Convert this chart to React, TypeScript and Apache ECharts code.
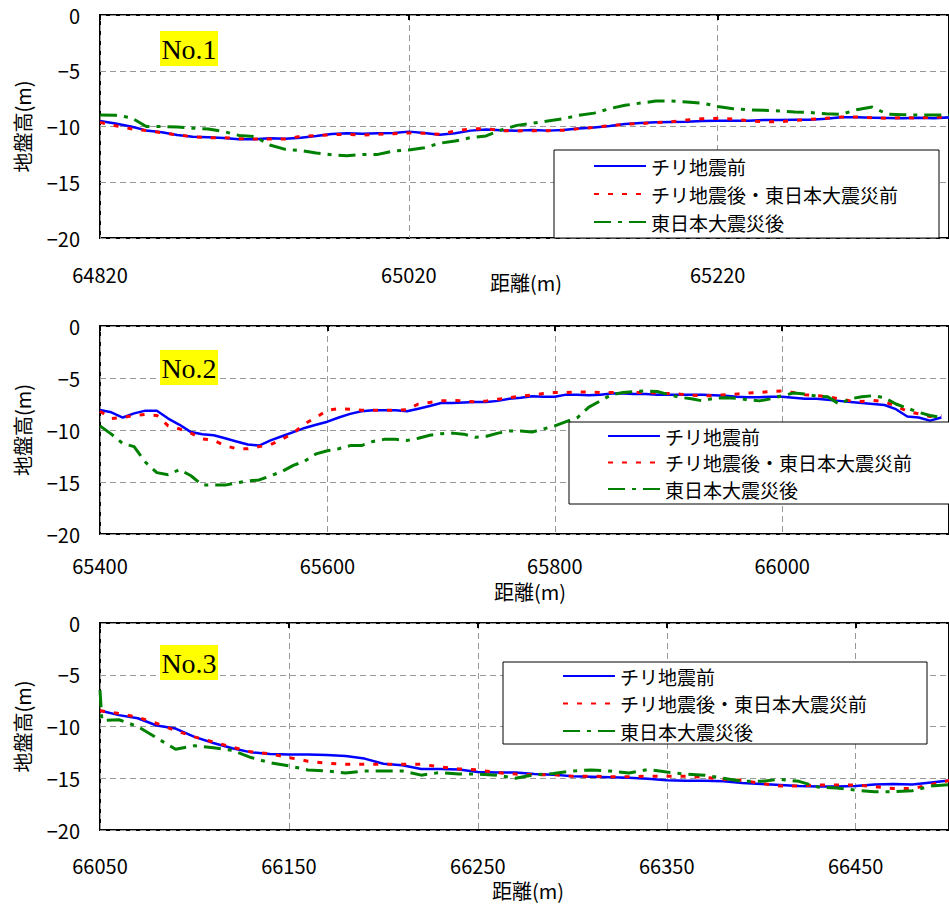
import React, { useEffect, useRef } from "react";
import * as echarts from "echarts";

// ---- Panel No.1 (distance m, elevation m) ----
const dist1 = [
  64820, 64830, 64840, 64850, 64860, 64870, 64880, 64890, 64900, 64910,
  64920, 64930, 64940, 64950, 64960, 64970, 64980, 64990, 65000, 65010,
  65020, 65030, 65040, 65050, 65060, 65070, 65080, 65090, 65100, 65110,
  65120, 65130, 65140, 65150, 65160, 65170, 65180, 65190, 65200, 65210,
  65220, 65230, 65240, 65250, 65260, 65270, 65280, 65290, 65300, 65310,
  65320, 65330, 65340, 65350, 65360, 65370,
];
const before1 = [
  -9.5, -9.74, -10.0, -10.35, -10.52, -10.76, -10.91, -10.97, -11.03, -11.15,
  -11.15, -11.06, -11.09, -11.0, -10.85, -10.67, -10.61, -10.64, -10.61, -10.58,
  -10.46, -10.58, -10.73, -10.61, -10.37, -10.28, -10.34, -10.37, -10.31, -10.37,
  -10.31, -10.17, -10.08, -9.95, -9.77, -9.68, -9.62, -9.59, -9.57, -9.51,
  -9.48, -9.48, -9.48, -9.42, -9.42, -9.39, -9.39, -9.3, -9.18, -9.18,
  -9.21, -9.24, -9.27, -9.21, -9.27, -9.18,
];
const between1 = [
  -9.63, -9.93, -10.2, -10.37, -10.55, -10.76, -10.91, -11.0, -11.0, -11.09,
  -11.12, -11.12, -11.12, -10.88, -10.82, -10.73, -10.7, -10.76, -10.7, -10.64,
  -10.58, -10.61, -10.7, -10.4, -10.22, -10.19, -10.37, -10.4, -10.37, -10.37,
  -10.34, -10.19, -10.08, -9.93, -9.8, -9.74, -9.65, -9.57, -9.42, -9.3,
  -9.27, -9.33, -9.48, -9.57, -9.57, -9.45, -9.36, -9.27, -9.15, -9.15,
  -9.21, -9.27, -9.21, -9.24, -9.15, -9.18,
];
const after1 = [
  -8.97, -9.0, -9.2, -10.0, -10.0, -10.05, -10.15, -10.22, -10.45, -10.8,
  -10.9, -11.66, -12.05, -12.15, -12.38, -12.53, -12.62, -12.5, -12.5, -12.2,
  -12.1, -11.9, -11.5, -11.3, -11.0, -10.85, -10.3, -9.9, -9.7, -9.5,
  -9.3, -9.0, -8.8, -8.4, -8.1, -7.9, -7.72, -7.72, -7.8, -7.9,
  -8.2, -8.4, -8.5, -8.55, -8.6, -8.7, -8.75, -8.85, -8.9, -8.5,
  -8.25, -8.9, -8.95, -8.97, -8.97, -8.97,
];

// ---- Panel No.2 ----
const dist2 = [
  65400, 65410, 65420, 65430, 65440, 65450, 65460, 65470, 65480, 65490,
  65500, 65510, 65520, 65530, 65540, 65550, 65560, 65570, 65580, 65590,
  65600, 65610, 65620, 65630, 65640, 65650, 65660, 65670, 65680, 65690,
  65700, 65710, 65720, 65730, 65740, 65750, 65760, 65770, 65780, 65790,
  65800, 65810, 65820, 65830, 65840, 65850, 65860, 65870, 65880, 65890,
  65900, 65910, 65920, 65930, 65940, 65950, 65960, 65970, 65980, 65990,
  66000, 66010, 66020, 66030, 66040, 66050, 66060, 66070, 66080, 66090,
  66100, 66110, 66120, 66130, 66140,
];
const before2 = [
  -8.08, -8.3, -8.8, -8.4, -8.14, -8.14, -8.9, -9.5, -10.2, -10.4,
  -10.5, -10.8, -11.1, -11.4, -11.5, -11.0, -10.6, -10.2, -9.8, -9.5,
  -9.2, -8.8, -8.45, -8.2, -8.1, -8.1, -8.1, -8.2, -7.95, -7.7,
  -7.4, -7.4, -7.35, -7.3, -7.3, -7.2, -7.0, -6.9, -6.75, -6.8,
  -6.8, -6.6, -6.6, -6.65, -6.6, -6.5, -6.5, -6.55, -6.55, -6.6,
  -6.6, -6.6, -6.6, -6.6, -6.65, -6.7, -6.8, -6.85, -6.85, -6.8,
  -6.8, -6.9, -7.0, -7.0, -7.1, -7.2, -7.3, -7.4, -7.5, -7.6,
  -8.0, -8.7, -8.8, -9.1, -8.8,
];
const between2 = [
  -8.2, -8.9, -8.8, -8.6, -8.5, -8.6, -9.6, -9.9, -10.3, -10.85,
  -11.0, -11.5, -11.8, -11.8, -11.6, -11.4, -10.9, -10.3, -9.4, -8.8,
  -8.1, -7.95, -8.0, -8.1, -8.1, -8.1, -8.1, -8.05, -7.5, -7.35,
  -7.2, -7.15, -7.2, -7.3, -7.2, -7.05, -6.9, -6.75, -6.65, -6.5,
  -6.4, -6.4, -6.35, -6.35, -6.4, -6.4, -6.4, -6.4, -6.4, -6.45,
  -6.5, -6.55, -6.65, -6.7, -6.7, -6.6, -6.55, -6.45, -6.4, -6.3,
  -6.25, -6.4, -6.6, -6.7, -6.8, -7.0, -7.2, -7.25, -7.15, -7.3,
  -7.7, -8.2, -8.45, -8.7, -8.6,
];
const after2 = [
  -9.6, -10.4, -11.3, -11.6, -13.1, -14.1, -14.3, -13.8, -14.4, -15.3,
  -15.3, -15.3, -15.1, -14.9, -14.8, -14.4, -14.0, -13.4, -13.0, -12.3,
  -12.0, -11.8, -11.5, -11.5, -11.1, -10.9, -10.9, -11.0, -10.8, -10.5,
  -10.35, -10.3, -10.4, -10.7, -10.6, -10.3, -10.1, -10.1, -10.2, -9.9,
  -9.6, -9.2, -8.8, -7.8, -7.2, -6.6, -6.4, -6.3, -6.25, -6.3,
  -6.6, -6.85, -7.0, -7.2, -6.95, -6.9, -6.95, -7.1, -7.2, -7.0,
  -6.7, -6.45, -6.55, -6.75, -6.8, -7.5, -7.0, -6.8, -6.7, -6.9,
  -7.5, -7.9, -8.3, -8.6, -8.8,
];

// ---- Panel No.3 ----
const dist3 = [
  66050, 66051, 66060, 66070, 66080, 66090, 66100, 66110, 66120, 66130,
  66140, 66150, 66160, 66170, 66180, 66190, 66200, 66210, 66220, 66230,
  66240, 66250, 66260, 66270, 66280, 66290, 66300, 66310, 66320, 66330,
  66340, 66350, 66360, 66370, 66380, 66390, 66400, 66410, 66420, 66430,
  66440, 66450, 66460, 66470, 66480, 66490, 66500,
];
const before3 = [
  -8.5, -8.5, -8.9, -9.2, -9.9, -10.2, -11.0, -11.6, -12.1, -12.5,
  -12.65, -12.7, -12.7, -12.75, -12.85, -13.1, -13.6, -13.75, -14.1, -14.1,
  -14.15, -14.4, -14.45, -14.45, -14.6, -14.65, -14.8, -14.85, -14.9, -14.95,
  -15.05, -15.2, -15.25, -15.25, -15.3, -15.45, -15.55, -15.65, -15.75, -15.8,
  -15.8, -15.75, -15.6, -15.55, -15.6, -15.4, -15.2,
];
const between3 = [
  -8.5, -8.5, -8.75, -9.1, -9.7, -10.4, -11.0, -11.5, -12.0, -12.45,
  -12.65, -13.0, -13.35, -13.55, -13.65, -13.65, -13.65, -13.65, -13.65, -13.9,
  -14.1, -14.2, -14.45, -14.6, -14.65, -14.65, -14.8, -14.8, -14.85, -14.85,
  -14.8, -14.8, -14.8, -14.9, -15.1, -15.2, -15.5, -15.75, -15.75, -15.65,
  -15.65, -15.65, -15.8, -16.0, -16.0, -15.6, -15.2,
];
const after3 = [
  -6.5, -9.4, -9.35, -10.0, -11.1, -12.2, -11.85, -12.05, -12.3, -13.0,
  -13.5, -13.8, -14.2, -14.3, -14.5, -14.3, -14.3, -14.3, -14.7, -14.45,
  -14.6, -14.6, -14.7, -15.0, -14.65, -14.55, -14.3, -14.2, -14.3, -14.5,
  -14.15, -14.4, -14.6, -14.7, -15.0, -15.3, -15.3, -15.1, -15.3, -15.85,
  -15.95, -16.15, -16.3, -16.3, -16.2, -15.75, -15.6,
];

const seriesNames = ["チリ地震前", "チリ地震後・東日本大震災前", "東日本大震災後"];
const panelTags = ["No.1", "No.2", "No.3"];
const yTicks = { min: -20, max: 0, interval: 5 };
const yAxisTitle = "地盤高(m)";
const xAxisTitle = "距離(m)";

const SANS = '"Noto Sans CJK JP", "Noto Sans", sans-serif';
const SERIF = '"Liberation Serif", "DejaVu Serif", serif';

const panels = [
  {
    dist: dist1, before: before1, between: between1, after: after1,
    start: 64820, step: 200, span: 549.8,
    top: 15, height: 223, labelMargin: 26, xNameY: 282, xNameX: 526,
    legend: { left: 593, top: 156, gap: 8 },
    box: { x: 554, y: 150, w: 385, h: 88 },
    tagY: 31,
  },
  {
    dist: dist2, before: before2, between: between2, after: after2,
    start: 65400, step: 200, span: 746.7,
    top: 326, height: 208, labelMargin: 21, xNameY: 591, xNameX: 530,
    legend: { left: 607, top: 426, gap: 6.5 },
    box: { x: 569, y: 422, w: 400, h: 82 },
    tagY: 350,
  },
  {
    dist: dist3, before: before3, between: between3, after: after3,
    start: 66050, step: 100, span: 449.4,
    top: 623, height: 207, labelMargin: 25, xNameY: 890, xNameX: 528,
    legend: { left: 562, top: 666, gap: 7.5 },
    box: { x: 503, y: 662, w: 424, h: 82 },
    tagY: 645,
  },
];

export default function App() {
  const ref = useRef<HTMLDivElement>(null);

  useEffect(() => {
    if (!ref.current) return;
    const chart = echarts.init(ref.current, null, { renderer: "svg" });

    const grid: any[] = [];
    const xAxis: any[] = [];
    const yAxis: any[] = [];
    const series: any[] = [];
    const legend: any[] = [];
    const graphic: any[] = [];
    const dashed = { color: "#999", width: 1, type: [6, 4] };

    panels.forEach((p, i) => {
      grid.push({
        left: 100, top: p.top, width: 855, height: p.height,
        show: true, borderColor: "#000", borderWidth: 2, backgroundColor: "transparent",
        containLabel: false,
      });
      xAxis.push({
        type: "value", gridIndex: i, position: "bottom", min: 0, max: p.span, interval: p.step,
        axisLine: { show: false }, axisTick: { show: false },
        axisLabel: {
          show: true, margin: p.labelMargin, color: "#000", fontSize: 20, fontFamily: SANS,
          showMaxLabel: false, showMinLabel: true,
          formatter: (v: number) => String(Math.round(v + p.start)),
        },
        splitLine: { show: true, lineStyle: dashed },
      });
      xAxis.push({
        type: "value", gridIndex: i, position: "top", min: 0, max: p.span, interval: p.step,
        axisLine: { show: false },
        axisTick: { show: true, inside: true, length: 5, lineStyle: { color: "#000", width: 2 } },
        axisLabel: { show: false },
        splitLine: { show: false },
      });
      yAxis.push({
        type: "value", gridIndex: i, min: yTicks.min, max: yTicks.max, interval: yTicks.interval,
        axisLine: { show: false }, axisTick: { show: false },
        axisLabel: {
          margin: 20, color: "#000", fontSize: 20, fontFamily: SANS,
          formatter: (v: number) => (v === 0 ? "0" : "\u2212" + Math.abs(v)),
        },
        splitLine: { show: true, lineStyle: dashed },
      });
      const mk = (vals: number[]) => vals.map((v, k) => [p.dist[k] - p.start, v]);
      series.push(
        {
          type: "line", name: seriesNames[0], xAxisIndex: i * 2, yAxisIndex: i, data: mk(p.before),
          symbol: "none", clip: true, z: 2,
          lineStyle: { color: "#0000FF", width: 2.5, type: "solid" }, itemStyle: { color: "#0000FF" },
        },
        {
          type: "line", name: seriesNames[1], xAxisIndex: i * 2, yAxisIndex: i, data: mk(p.between),
          symbol: "none", clip: true, z: 2,
          lineStyle: { color: "#FF0000", width: 3, type: [5, 9] }, itemStyle: { color: "#FF0000" },
        },
        {
          type: "line", name: seriesNames[2], xAxisIndex: i * 2, yAxisIndex: i, data: mk(p.after),
          symbol: "none", clip: true, z: 2,
          lineStyle: { color: "#008000", width: 3, type: [17, 7, 4, 7] }, itemStyle: { color: "#008000" },
        }
      );
      legend.push({
        orient: "vertical", left: p.legend.left, top: p.legend.top, padding: 0,
        itemWidth: 52, itemHeight: 20, itemGap: p.legend.gap, selectedMode: false,
        data: seriesNames, z: 6,
        itemStyle: { opacity: 0 },
        textStyle: { color: "#000", fontSize: 19, fontFamily: SANS, lineHeight: 20 },
      });
      graphic.push(
        {
          type: "rect", z: 5,
          shape: { x: p.box.x, y: p.box.y, width: p.box.w, height: p.box.h },
          style: { fill: "#fff", stroke: "#000", lineWidth: 1 },
        },
        {
          type: "rect", z: 5,
          shape: { x: 160, y: p.tagY, width: 58, height: 35 },
          style: { fill: "#FFFF00" },
        },
        {
          type: "text", z: 6, x: 189, y: p.tagY + 18,
          style: {
            text: panelTags[i], fill: "#000", fontSize: 28, fontFamily: SERIF,
            align: "center", verticalAlign: "middle",
          },
        },
        {
          type: "text", z: 6, x: 22, y: p.top + p.height / 2, rotation: Math.PI / 2,
          style: {
            text: yAxisTitle, fill: "#000", fontSize: 20, fontFamily: SANS,
            align: "center", verticalAlign: "middle",
          },
        },
        {
          type: "text", z: 6, x: p.xNameX, y: p.xNameY,
          style: {
            text: xAxisTitle, fill: "#000", fontSize: 20, fontFamily: SANS,
            align: "center", verticalAlign: "middle",
          },
        }
      );
    });

    chart.setOption({
      animation: false,
      backgroundColor: "#fff",
      grid, xAxis, yAxis, series, legend, graphic,
    });
    return () => chart.dispose();
  }, []);

  return (
    <div
      ref={ref}
      style={{ position: "absolute", left: 0, top: 0, width: 949, height: 904, background: "#fff" }}
    />
  );
}
